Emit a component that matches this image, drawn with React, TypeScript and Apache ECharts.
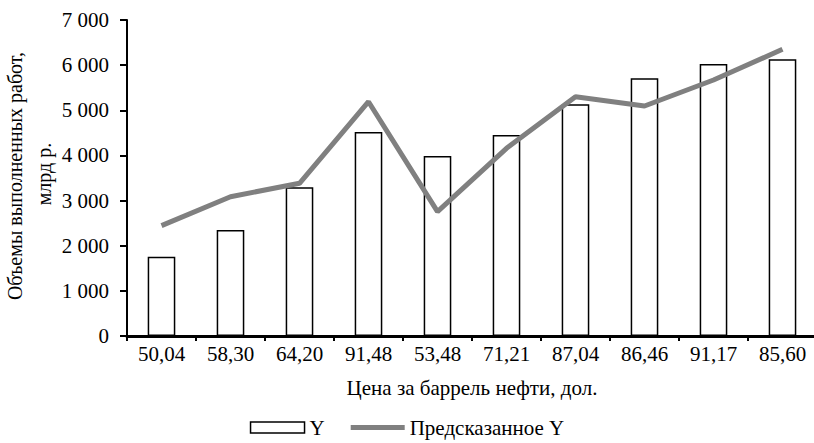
import React, { useEffect, useRef } from "react";
import * as echarts from "echarts";

const categories = ["50,04", "58,30", "64,20", "91,48", "53,48", "71,21", "87,04", "86,46", "91,17", "85,60"];
const actualY = [1757, 2348, 3294, 4519, 3988, 4453, 5133, 5709, 6026, 6130];
const predictedY = [2444, 3086, 3383, 5190, 2754, 4158, 5302, 5095, 5671, 6351];
const yTicks = { min: 0, max: 7000, interval: 1000 };
const yNameLines = ["Объемы выполненных работ,", "млрд р."];

const FONT = "'Liberation Serif', 'Times New Roman', serif";
const FS = 20;
const FSH = 21;

function fmt(v: number): string {
  const s = String(Math.round(v));
  return s.replace(/\B(?=(\d{3})+(?!\d))/g, " ");
}

export default function App() {
  const ref = useRef<HTMLDivElement>(null);
  useEffect(() => {
    document.body.style.margin = "0";
    if (!ref.current) return;
    const chart = echarts.init(ref.current, undefined, { renderer: "svg" });
    chart.setOption({
      animation: false,
      backgroundColor: "#ffffff",
      textStyle: { fontFamily: FONT, color: "#000" },
      grid: { left: 127, top: 20, bottom: 107, right: -3, containLabel: false, outerBoundsMode: "none" },
      graphic: [
        {
          type: "text",
          x: 15,
          y: 176,
          rotation: Math.PI / 2,
          style: {
            text: yNameLines[0],
            fontSize: FS,
            fontFamily: FONT,
            fill: "#000",
            align: "center",
            verticalAlign: "middle",
          },
        },
        {
          type: "text",
          x: 44,
          y: 174,
          rotation: Math.PI / 2,
          style: {
            text: yNameLines[1],
            fontSize: FS,
            fontFamily: FONT,
            fill: "#000",
            align: "center",
            verticalAlign: "middle",
          },
        },
      ],
      legend: {
        bottom: 0,
        left: "center",
        itemWidth: 54,
        itemHeight: 11,
        itemGap: 26,
        textStyle: { fontFamily: FONT, fontSize: FSH, color: "#000" },
        data: [
          { name: "Y", icon: "rect", itemStyle: { color: "#fff", borderColor: "#000", borderWidth: 1.5 } },
          {
            name: "Предсказанное Y",
            icon: "path://M0,0 L54,0 L54,5 L0,5 Z",
            itemStyle: { color: "#808080", borderWidth: 0 },
          },
        ],
      },
      xAxis: {
        type: "category",
        data: categories,
        name: "Цена за баррель нефти, дол.",
        nameLocation: "middle",
        nameGap: 41,
        nameTextStyle: { fontFamily: FONT, fontSize: FSH, color: "#000" },
        axisLine: { lineStyle: { color: "#000", width: 3 } },
        axisTick: { show: true, length: 5, lineStyle: { color: "#000", width: 2 } },
        axisLabel: { fontFamily: FONT, fontSize: FSH, color: "#000", margin: 7 },
        splitLine: { show: false },
      },
      yAxis: {
        type: "value",
        min: yTicks.min,
        max: yTicks.max,
        interval: yTicks.interval,
        axisLine: { show: true, lineStyle: { color: "#000", width: 2 } },
        axisTick: { show: true, length: 7, lineStyle: { color: "#000", width: 2 } },
        axisLabel: { fontFamily: FONT, fontSize: FSH, color: "#000", margin: 18, formatter: (v: number) => fmt(v) },
        splitLine: { show: false },
      },
      series: [
        {
          name: "Y",
          type: "bar",
          data: actualY,
          barWidth: "40%",
          itemStyle: { color: "#ffffff", borderColor: "#000", borderWidth: 1.5 },
        },
        {
          name: "Предсказанное Y",
          type: "line",
          data: predictedY,
          symbol: "none",
          lineStyle: { color: "#808080", width: 5 },
          itemStyle: { color: "#808080" },
          z: 3,
        },
      ],
    });
    return () => chart.dispose();
  }, []);
  return <div ref={ref} style={{ width: 814, height: 443 }} />;
}
